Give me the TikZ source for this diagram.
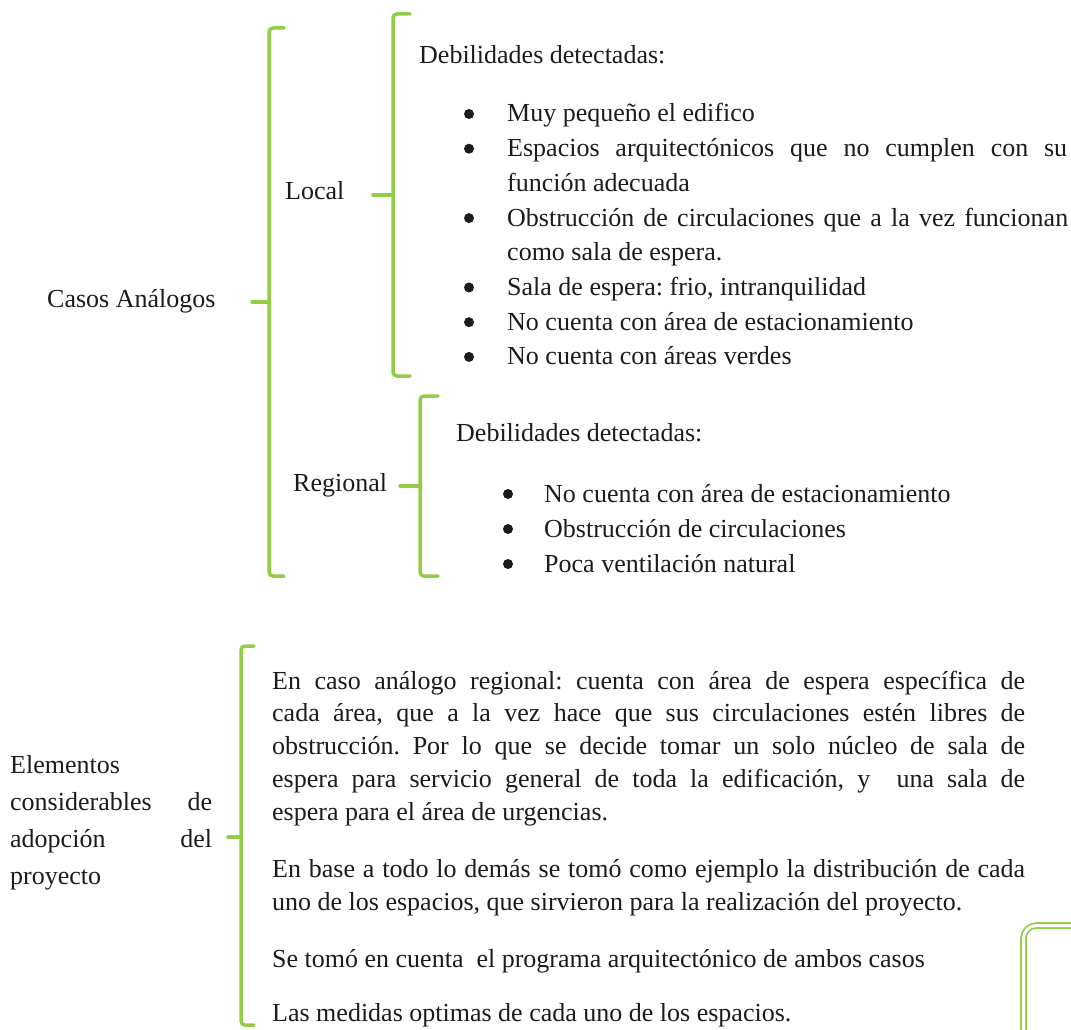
\documentclass[tikz,border=0pt]{standalone}
\usepackage{fontspec}
\setmainfont{Liberation Serif}
\frenchspacing
\definecolor{brgreen}{RGB}{146,205,70}
\definecolor{ink}{RGB}{30,27,28}
\tikzset{
  txt/.style={anchor=base west, inner sep=0pt, text=ink, font=\fontsize{26}{34}\selectfont},
  bul/.style={circle, fill=ink, minimum size=10pt, inner sep=0pt},
  brace/.style={draw=brgreen, line width=3.5pt, rounded corners=4pt, line cap=round},
  dblframe/.style={draw=brgreen, line width=1.8pt, double=white, double distance=3pt, rounded corners=13pt},
}
% x, top, bottom, tip y, tip x, hook x
\newcommand\mybrace[6]{%
  \draw[brace] (#6,#2) -- (#1,#2) -- (#1,#3) -- (#6,#3);
  \draw[brace] (#5,#4) -- (#1,#4);
}
\begin{document}
\begin{tikzpicture}[x=1pt,y=-1pt]
\clip (0,0) rectangle (1071,1030);
\fill[white] (0,0) rectangle (1071,1030);

% braces
\mybrace{269}{28}{576}{302}{252}{284}
\mybrace{393}{14}{376}{195}{373}{410}
\mybrace{420}{396}{576}{486}{400}{438}
\mybrace{241}{646}{1025}{837}{228}{254}

% frame at bottom right
\draw[dblframe] (1023.5,925.5) rectangle (1120,1080);

% left labels
\node[txt] (casos) at (47,307) {Casos Análogos};
\node[txt] (local) at (285,200) {Local};
\node[txt] (regional) at (293,491) {Regional};

% Local block
\node[txt] (ldeb) at (419,64) {Debilidades detectadas:};
\node[bul] (lb1) at (469,122-8) {};
\node[txt] (l1) at (507,122) {Muy pequeño el edifico};
\node[bul] (lb2) at (469,156.7-8) {};
\node[txt] (l2) at (507,156.7) {\makebox[560pt][s]{Espacios arquitectónicos que no cumplen con su}};
\node[txt] (l2b) at (507,191.4) {función adecuada};
\node[bul] (lb3) at (469,226.1-8) {};
\node[txt] (l3) at (507,226.1) {\makebox[561pt][s]{Obstrucción de circulaciones que a la vez funcionan}};
\node[txt] (l3b) at (507,260.8) {como sala de espera.};
\node[bul] (lb4) at (469,295.5-8) {};
\node[txt] (l4) at (507,295.5) {Sala de espera: frio, intranquilidad};
\node[bul] (lb5) at (469,330.2-8) {};
\node[txt] (l5) at (507,330.2) {No cuenta con área de estacionamiento};
\node[bul] (lb6) at (469,364.9-8) {};
\node[txt] (l6) at (507,364.9) {No cuenta con áreas verdes};

% Regional block
\node[txt] (rdeb) at (456,441) {Debilidades detectadas:};
\node[bul] (rb1) at (508,502-8) {};
\node[txt] (r1) at (544,502) {No cuenta con área de estacionamiento};
\node[bul] (rb2) at (508,537-8) {};
\node[txt] (r2) at (544,537) {Obstrucción de circulaciones};
\node[bul] (rb3) at (508,572-8) {};
\node[txt] (r3) at (544,572) {Poca ventilación natural};

% Elementos label
\node[txt] (e1) at (10,773) {Elementos};
\node[txt] (e2) at (10,810) {\makebox[202pt][s]{considerables de}};
\node[txt] (e3) at (10,847) {\makebox[202pt][s]{adopción del}};
\node[txt] (e4) at (10,884) {proyecto};

% Paragraphs
\node[txt] (p1a) at (272,689) {\makebox[753pt][s]{En caso análogo regional: cuenta con área de espera específica de}};
\node[txt] (p1b) at (272,721.75) {\makebox[753pt][s]{cada área, que a la vez hace que sus circulaciones estén libres de}};
\node[txt] (p1c) at (272,754.5) {\makebox[753pt][s]{obstrucción. Por lo que se decide tomar un solo núcleo de sala de}};
\node[txt] (p1d) at (272,787.25) {\makebox[753pt][s]{espera para servicio general de toda la edificación, y\ \ una sala de}};
\node[txt] (p1e) at (272,820) {espera para el área de urgencias.};
\node[txt] (p2a) at (272,877) {\makebox[753pt][s]{En base a todo lo demás se tomó como ejemplo la distribución de cada}};
\node[txt] (p2b) at (272,910) {uno de los espacios, que sirvieron para la realización del proyecto.};
\node[txt] (p3) at (272,967) {Se tomó en cuenta\ \ el programa arquitectónico de ambos casos};
\node[txt] (p4) at (272,1021) {Las medidas optimas de cada uno de los espacios.};
\end{tikzpicture}
\end{document}
